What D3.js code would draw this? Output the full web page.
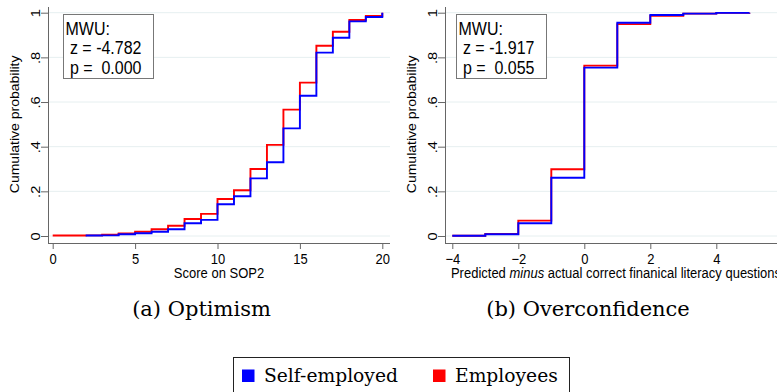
<!DOCTYPE html>
<html>
<head>
<meta charset="utf-8">
<script src="https://cdn.jsdelivr.net/npm/d3@7"></script>
<style>
  body { margin: 0; background: #fff; }
  svg { display: block; }
  .stata { font-family: "Liberation Sans", Arial, sans-serif; fill: #000; white-space: pre; }
  .tex { font-family: "DejaVu Serif", "Liberation Serif", serif; fill: #000; }
</style>
</head>
<body>
<svg id="chart" width="777" height="392"></svg>
<script>
// ---- Panel (a): cumulative distribution of the SOP2 optimism score ----
const sopScoresEmp  = [0,1,2,3,4,5,6,7,8,9,10,11,12,13,14,15,16,17,18,19,20];
const sopCdfEmp     = [0.002,0.002,0.003,0.006,0.011,0.019,0.030,0.046,0.076,0.099,0.166,0.205,0.300,0.408,0.566,0.687,0.852,0.915,0.967,0.985,1.000];
const sopScoresSelf = [2,3,4,5,6,7,8,9,10,11,12,13,14,15,16,17,18,19,20];
const sopCdfSelf    = [0.002,0.003,0.008,0.012,0.019,0.030,0.057,0.072,0.142,0.178,0.258,0.330,0.482,0.628,0.821,0.888,0.961,0.981,1.000];
const sopTicks      = [0,5,10,15,20];
const sopStats      = ["MWU:", " z = -4.782", " p =  0.000"];

// ---- Panel (b): predicted minus actual correct literacy answers ----
const ocValues   = [-4,-3,-2,-1,0,1,2,3,4,5];
const ocCdfEmp   = [0.001,0.009,0.069,0.299,0.763,0.949,0.986,0.996,0.999,1.000];
const ocCdfSelf  = [0.001,0.008,0.057,0.261,0.754,0.955,0.990,0.996,0.999,1.000];
const ocTicks    = [-4,-2,0,2,4];
const ocStats    = ["MWU:", " z = -1.917", " p =  0.055"];

const probTicks  = [0,0.2,0.4,0.6,0.8,1];
const captions   = ["(a) Optimism", "(b) Overconfidence"];
const seriesNames  = ["Self-employed", "Employees"];
const seriesColors = ["#0000ff", "#ff0000"];

const svg = d3.select("#chart");
const SY = 1.12;   // Stata text in the exported graph is slightly taller than wide

const y = d3.scaleLinear().domain([0, 1]).range([236, 12.7]);
const plotTop = 7, plotBottom = 243;

const fmtProb = d => d === 0 ? "0" : d === 1 ? "1" : d3.format(".1f")(d).replace(/^0/, "");

function panel(cfg) {
  const g = svg.append("g");
  const x = d3.scaleLinear().domain(cfg.xDomain).range(cfg.xRange);

  // horizontal grid
  g.append("g").selectAll("line").data(probTicks).join("line")
    .attr("x1", cfg.left).attr("x2", cfg.right)
    .attr("y1", d => y(d)).attr("y2", d => y(d))
    .attr("stroke", "#e6eff0").attr("stroke-width", 1);

  // y axis
  const ya = g.append("g").attr("transform", `translate(${cfg.left},0)`)
    .call(d3.axisLeft(y).tickValues(probTicks).tickFormat(fmtProb).tickSize(7).tickPadding(0));
  ya.select(".domain").remove();
  ya.selectAll(".tick line").attr("stroke", "#666");
  ya.selectAll(".tick text")
    .attr("class", "stata").attr("x", 0).attr("dy", null).attr("y", 0)
    .attr("text-anchor", "middle").attr("font-size", 13)
    .attr("transform", `translate(-8.5,0) rotate(-90) scale(${SY},1)`);
  g.append("line").attr("x1", cfg.left + 0.5).attr("x2", cfg.left + 0.5)
    .attr("y1", plotTop).attr("y2", plotBottom).attr("stroke", "#666");

  // x axis
  const xa = g.append("g").attr("transform", `translate(0,${plotBottom})`)
    .call(d3.axisBottom(x).tickValues(cfg.ticks).tickSize(6).tickPadding(0));
  xa.select(".domain").remove();
  xa.selectAll(".tick line").attr("stroke", "#666");
  xa.selectAll(".tick text")
    .attr("class", "stata").attr("y", 0).attr("dy", null)
    .attr("font-size", 13)
    .attr("transform", `translate(0,20.5) scale(1,${SY})`);
  g.append("line").attr("x1", cfg.left).attr("x2", cfg.right)
    .attr("y1", plotBottom + 0.5).attr("y2", plotBottom + 0.5).attr("stroke", "#666");

  // axis titles
  g.append("text").attr("class", "stata").attr("font-size", 12.5)
    .attr("text-anchor", "middle")
    .attr("transform", `translate(${cfg.left - 29},${(y(0) + y(1)) / 2}) rotate(-90) scale(${SY},1)`)
    .text("Cumulative probability");
  const xt = g.append("text").attr("class", "stata").attr("font-size", 13)
    .attr("text-anchor", "middle")
    .attr("transform", `translate(${(cfg.left + cfg.right) / 2},${cfg.titleY}) scale(1,${SY})`);
  cfg.xTitle.forEach(part => xt.append("tspan").attr("font-style", part.italic ? "italic" : null).text(part.t));

  // stepwise cumulative distributions (employees underneath, self-employed on top)
  const line = d3.line().curve(d3.curveStepAfter).x(d => x(d[0])).y(d => y(d[1]));
  cfg.series.slice().reverse().forEach(s => {
    g.append("path").datum(d3.zip(s.xs, s.ys))
      .attr("d", line).attr("fill", "none")
      .attr("stroke", s.color).attr("stroke-width", 1.9);
  });

  // Mann-Whitney test box
  g.append("rect").attr("x", cfg.boxX + 0.5).attr("y", 14.5).attr("width", 90).attr("height", 64)
    .attr("fill", "#fff").attr("stroke", "#777");
  cfg.stats.forEach((s, i) => {
    g.append("text").attr("class", "stata").attr("font-size", 16)
      .attr("transform", `translate(${cfg.boxX + 2.5},${35 + i * 19.3}) scale(1,${SY})`)
      .text(s);
  });

  // caption
  svg.append("text").attr("class", "tex").attr("font-size", 21)
    .attr("text-anchor", "middle").attr("x", cfg.captionX).attr("y", 316)
    .text(cfg.caption);
}

panel({
  left: 48, right: 390,
  xDomain: [0, 20], xRange: [52.7, 382.3], ticks: sopTicks,
  xTitle: [{t: "Score on SOP2"}], titleY: 278,
  series: [
    {xs: sopScoresSelf, ys: sopCdfSelf, color: seriesColors[0]},
    {xs: sopScoresEmp,  ys: sopCdfEmp,  color: seriesColors[1]}
  ],
  stats: sopStats, boxX: 63, caption: captions[0], captionX: 201.5
});

panel({
  left: 445, right: 787,
  xDomain: [-4, 4], xRange: [452.3, 716.3], ticks: ocTicks,
  xTitle: [{t: "Predicted "}, {t: "minus", italic: true}, {t: " actual correct finanical literacy questions"}], titleY: 278,
  series: [
    {xs: ocValues, ys: ocCdfSelf, color: seriesColors[0]},
    {xs: ocValues, ys: ocCdfEmp,  color: seriesColors[1]}
  ],
  stats: ocStats, boxX: 456, caption: captions[1], captionX: 588
});

// legend
const lg = svg.append("g");
lg.append("rect").attr("x", 233.5).attr("y", 357.5).attr("width", 336).attr("height", 50)
  .attr("fill", "#fff").attr("stroke", "#222").attr("stroke-width", 1);
const legendX = [242, 433];
seriesNames.forEach((name, i) => {
  lg.append("rect").attr("x", legendX[i]).attr("y", 369.5).attr("width", 12.5).attr("height", 12.5)
    .attr("fill", seriesColors[i]);
  lg.append("text").attr("class", "tex").attr("font-size", 18.7)
    .attr("x", legendX[i] + 22).attr("y", 382).text(name);
});
</script>
</body>
</html>
